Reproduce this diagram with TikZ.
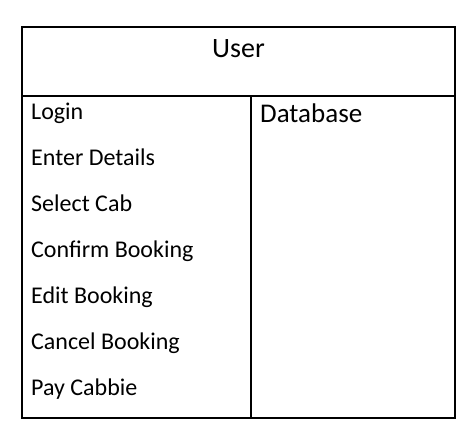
\documentclass[tikz,border=0pt]{standalone}
\usepackage{fontspec}
\setmainfont{Carlito}
\usepackage{tikz}
\usetikzlibrary{positioning}
\tikzset{item/.style={anchor=base west,inner sep=0pt,font=\fontsize{24}{28}\selectfont}}

\begin{document}
\begin{tikzpicture}[x=1pt,y=-1pt]
		\useasboundingbox (0,0) rectangle (476,447);
		\draw [line width=1.1pt] (22,27) rectangle (455,418);
		\draw [line width=1.1pt] (22,96) -- (455,96);
		\draw [line width=1.1pt] (251,96) -- (251,418);
  		\path (238.5,57) node (user) [anchor=base,inner sep=0pt,font=\fontsize{28}{32}\selectfont] {User}
        		(260,122) node (database) [anchor=base west,inner sep=0pt,font=\fontsize{27}{31}\selectfont] {Database}
        		(31,119) node (login) [item] {Login}
        		(31,165) node (details) [item] {Enter Details}
        		(31,211) node (cab) [item] {Select Cab}
        		(31,257) node (confirm) [item] {Confirm Booking}
        		(31,303) node (edit) [item] {Edit Booking}
        		(31,349) node (cancel) [item] {Cancel Booking}
        		(31,395) node (pay) [item] {Pay Cabbie};
		\end{tikzpicture}
\end{document}
